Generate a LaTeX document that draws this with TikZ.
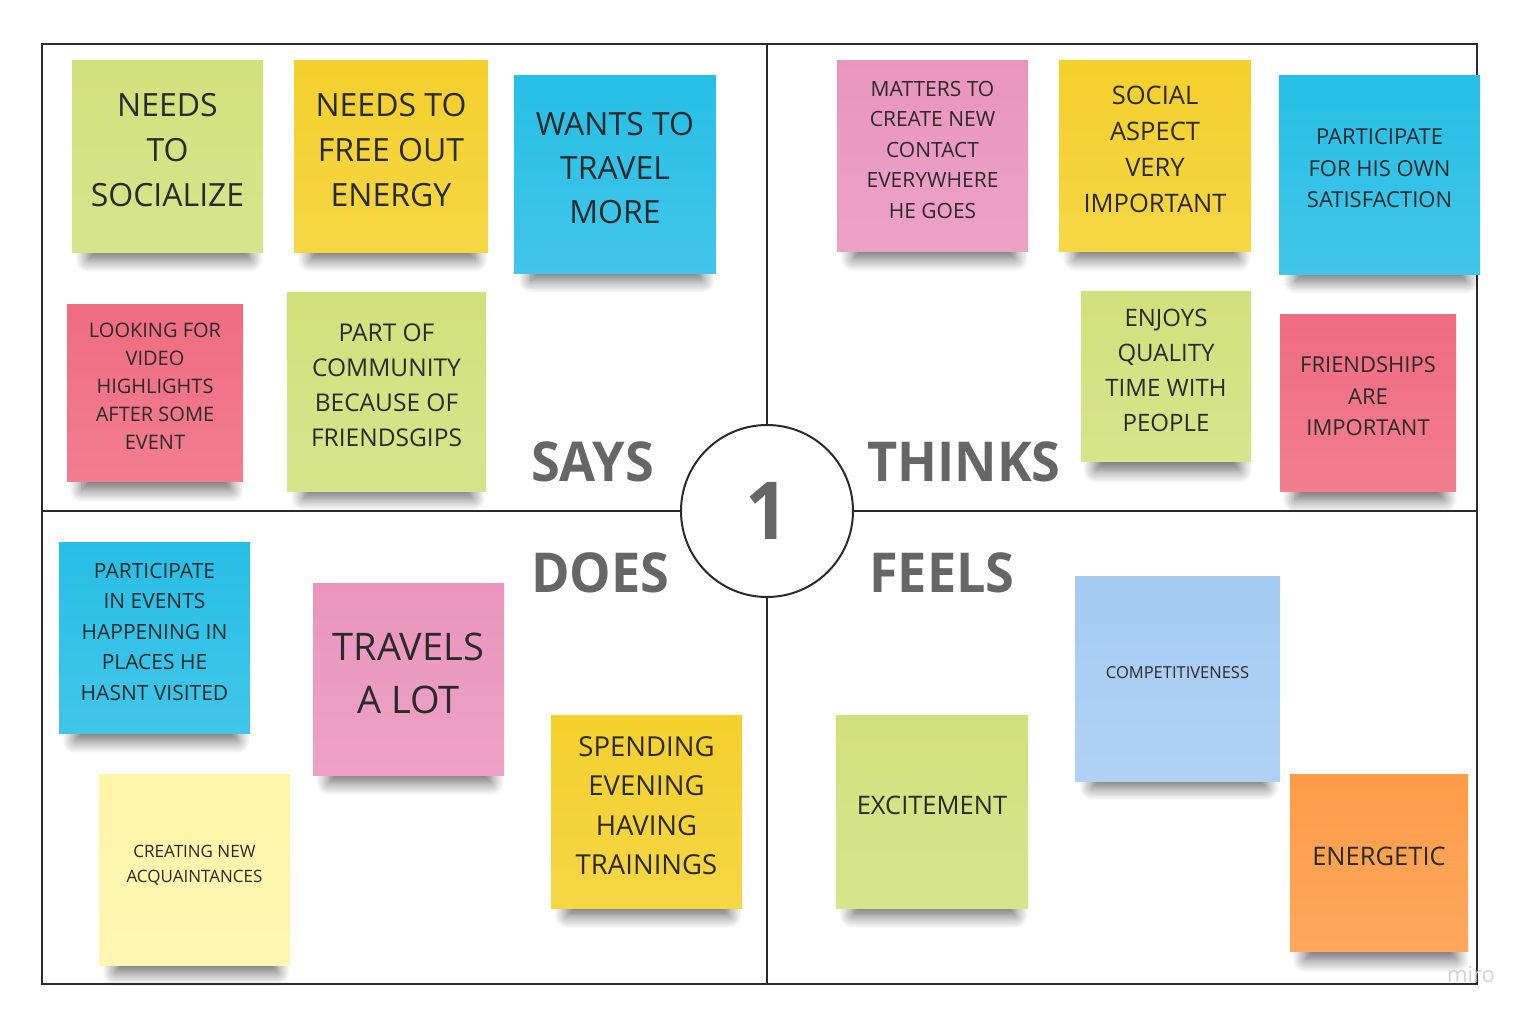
\documentclass[tikz,border=0pt]{standalone}
\usepackage{fontspec}
\setmainfont{Open Sans}
\newfontfamily\headfont[FakeStretch=0.95]{Open Sans}
\usetikzlibrary{shadows.blur}

\definecolor{lime}{HTML}{D1E17C}
\definecolor{sun}{HTML}{F4D02C}
\definecolor{sky}{HTML}{27BEE6}
\definecolor{coral}{HTML}{F06C80}
\definecolor{rose}{HTML}{EA95BD}
\definecolor{cream}{HTML}{FEF5A8}
\definecolor{ice}{HTML}{A5CBF3}
\definecolor{tang}{HTML}{FE9C48}
\definecolor{ink}{HTML}{2A2A2A}
\definecolor{head}{HTML}{666666}

\begin{document}
\begin{tikzpicture}[
  x=1pt, y=-1pt,
  note/.style={inner sep=0pt,align=center,text=ink,
    top color=#1,bottom color=#1!88!white,
    execute at end node={\rule[-12pt]{0pt}{0pt}},
    blur shadow={shadow xshift=2pt,shadow yshift=-26pt,shadow scale=0.85,
      shadow blur radius=15pt,shadow blur steps=12,shadow opacity=60}},
  quad/.style={font=\headfont\fontsize{55}{55}\selectfont\bfseries,text=head,inner sep=0pt,anchor=west},
  rule/.style={draw=ink,line width=2pt}]
\useasboundingbox (0,0) rectangle (1530,1020);
% frame and centre
\coordinate (nw) at (42,44);
\coordinate (se) at (1477,984);
\draw[rule] (nw) rectangle (se);
\node[circle,draw=ink,line width=2pt,fill=white,minimum size=172,inner sep=0pt,
  font=\headfont\fontsize{80}{80}\selectfont\bfseries,text=head] (num) at (767,511) {1};
\draw[rule] (num.north) -- (num.north |- nw);
\draw[rule] (num.south) -- (num.south |- se);
\draw[rule] (num.west) -- (num.west -| nw);
\draw[rule] (num.east) -- (num.east -| se);
\node[quad] (says) at (531,462) {SAYS};
\node[quad] (thinks) at (867,462) {THINKS};
\node[quad] (does) at (531,573) {DOES};
\node[quad] (feels) at (869,573) {FEELS};
% says
\node[note=lime,minimum width=191,minimum height=192,font=\fontsize{32}{45}\selectfont] (social) at (167.5,156) {NEEDS\\TO\\SOCIALIZE};
\node[note=sun,minimum width=194,minimum height=192,font=\fontsize{32}{45}\selectfont] (energy) at (391,156) {NEEDS TO\\FREE OUT\\ENERGY};
\node[note=sky,minimum width=202,minimum height=198,font=\fontsize{32}{44}\selectfont] (travel) at (615,174) {WANTS TO\\TRAVEL\\MORE};
\node[note=coral,minimum width=176,minimum height=177,font=\fontsize{20}{28}\selectfont] (video) at (155,392.5) {LOOKING FOR\\VIDEO\\HIGHLIGHTS\\AFTER SOME\\EVENT};
\node[note=lime,minimum width=199,minimum height=199,font=\fontsize{24.5}{35}\selectfont] (community) at (386.5,391.5) {PART OF\\COMMUNITY\\BECAUSE OF\\FRIENDSGIPS};
% thinks
\node[note=rose,minimum width=191,minimum height=191,font=\fontsize{21}{30.5}\selectfont] (contact) at (932.5,155.5) {MATTERS TO\\CREATE NEW\\CONTACT\\EVERYWHERE\\HE GOES};
\node[note=sun,minimum width=192,minimum height=191,font=\fontsize{25.5}{36}\selectfont] (aspect) at (1155,155.5) {SOCIAL\\ASPECT\\VERY\\IMPORTANT};
\node[note=sky,minimum width=201,minimum height=199,font=\fontsize{22}{31.5}\selectfont] (satisfy) at (1379.5,174.5) {PARTICIPATE\\FOR HIS OWN\\SATISFACTION};
\node[note=lime,minimum width=170,minimum height=170,font=\fontsize{24}{35}\selectfont] (quality) at (1166,376) {ENJOYS\\QUALITY\\TIME WITH\\PEOPLE};
\node[note=coral,minimum width=176,minimum height=177,font=\fontsize{22}{31.5}\selectfont] (friends) at (1368,402.5) {FRIENDSHIPS\\ARE\\IMPORTANT};
% does
\node[note=sky,minimum width=191,minimum height=191,font=\fontsize{21}{30.5}\selectfont] (events) at (154.5,637.5) {PARTICIPATE\\IN EVENTS\\HAPPENING IN\\PLACES HE\\HASNT VISITED};
\node[note=rose,minimum width=191,minimum height=192,font=\fontsize{38}{53}\selectfont] (travels) at (408.5,679) {TRAVELS\\A LOT};
\node[note=cream,minimum width=191,minimum height=191,font=\fontsize{17}{25}\selectfont] (acquaint) at (194.5,869.5) {CREATING NEW\\ACQUAINTANCES};
\node[note=sun,minimum width=191,minimum height=193,font=\fontsize{27.5}{39.5}\selectfont] (training) at (646.5,811.5) {SPENDING\\EVENING\\HAVING\\TRAININGS};
% feels
\node[note=lime,minimum width=192,minimum height=193,font=\fontsize{25.5}{36}\selectfont] (excite) at (932,811.5) {EXCITEMENT};
\node[note=ice,minimum width=205,minimum height=205,font=\fontsize{16.5}{24}\selectfont] (compete) at (1177.5,678.5) {COMPETITIVENESS};
\node[note=tang,minimum width=178,minimum height=177,font=\fontsize{25.5}{36}\selectfont] (energetic) at (1379,862.5) {ENERGETIC};
\node[text=gray!35,font=\fontsize{22}{22}\selectfont] (miro) at (1471,975) {miro};
\end{tikzpicture}
\end{document}
